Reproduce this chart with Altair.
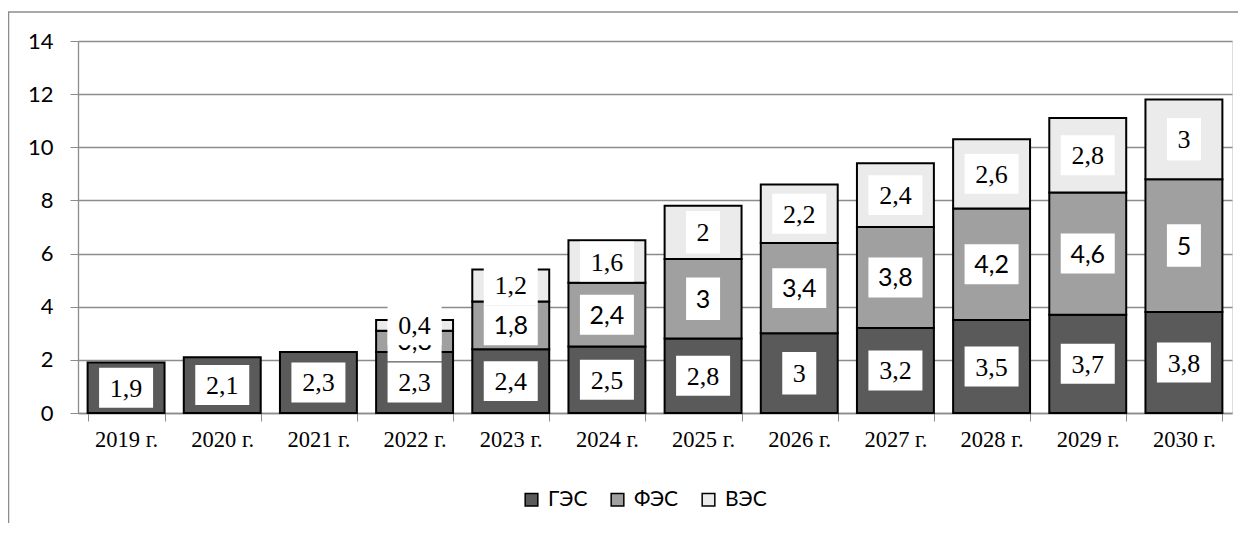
import altair as alt
import pandas as pd

years = ["2019 г.", "2020 г.", "2021 г.", "2022 г.", "2023 г.", "2024 г.",
         "2025 г.", "2026 г.", "2027 г.", "2028 г.", "2029 г.", "2030 г."]
ges = [1.9, 2.1, 2.3, 2.3, 2.4, 2.5, 2.8, 3.0, 3.2, 3.5, 3.7, 3.8]
fes = [0, 0, 0, 0.8, 1.8, 2.4, 3.0, 3.4, 3.8, 4.2, 4.6, 5.0]
ves = [0, 0, 0, 0.4, 1.2, 1.6, 2.0, 2.2, 2.4, 2.6, 2.8, 3.0]
series_names = ["ГЭС", "ФЭС", "ВЭС"]
series_values = [ges, fes, ves]
fills = ["#5a5a5a", "#a0a0a0", "#ebebeb"]


def fmt(v):
    s = ("%g" % v)
    return s.replace(".", ",")


rows = []
for i, y in enumerate(years):
    base = 0.0
    for k, (name, vals) in enumerate(zip(series_names, series_values)):
        v = vals[i]
        if v > 0:
            rows.append({"year": y, "series": name, "order": k, "value": v,
                         "y0": base, "y1": base + v, "mid": base + v / 2,
                         "label": fmt(v),
                         "wide": "w" if len(fmt(v)) > 1 else "n"})
        base += v
df = pd.DataFrame(rows)

W, H = 1154, 372

xenc = alt.X("year:N", sort=years, title=None,
             scale=alt.Scale(paddingInner=0.2, paddingOuter=0.1),
             axis=alt.Axis(labelFont="Liberation Serif", labelFontSize=22.5,
                           labelColor="black", labelAngle=0, labelPadding=7,
                           tickBand="extent", tickColor="#8c8c8c", tickSize=8,
                           domainColor="#8c8c8c", domainWidth=1.3))
yscale = alt.Scale(domain=[0, 14], nice=False)

bars = alt.Chart(df).mark_bar(stroke="black", strokeWidth=2).encode(
    x=xenc,
    y=alt.Y("y0:Q", scale=yscale, title=None,
            axis=alt.Axis(values=list(range(0, 15, 2)), labelFont="Lato",
                          labelFontSize=22, labelColor="black", labelPadding=17,
                          tickColor="#8c8c8c", tickSize=8, domainColor="#8c8c8c",
                          domainWidth=1.3, gridColor="#8c8c8c", gridWidth=1.3,
                          grid=True)),
    y2="y1:Q",
    fill=alt.Fill("series:N", sort=series_names,
                  scale=alt.Scale(domain=series_names, range=fills),
                  legend=alt.Legend(title=None, orient="none", direction="horizontal",
                                    legendX=443, legendY=448, symbolType="square",
                                    symbolSize=160, symbolStrokeColor="black",
                                    symbolStrokeWidth=1.5, symbolOpacity=1,
                                    labelFont="Lato", labelFontSize=21,
                                    labelColor="black", labelOffset=6,
                                    columnPadding=19)),
    order=alt.Order("order:Q"),
)

wide_shape = "M-1,-0.74L1,-0.74L1,0.74L-1,0.74Z"
narrow_shape = "M-1,-1.25L1,-1.25L1,1.25L-1,1.25Z"


def boxes(names):
    d = df[df["series"].isin(names)]
    wide = alt.Chart(d[d["wide"] == "w"]).mark_point(
        shape=wide_shape, filled=True, fill="white", opacity=1, size=54 * 54,
        strokeWidth=0).encode(x=alt.X("year:N", sort=years),
                              y=alt.Y("mid:Q", scale=yscale))
    narrow = alt.Chart(d[d["wide"] == "n"]).mark_point(
        shape=narrow_shape, filled=True, fill="white", opacity=1, size=34 * 34,
        strokeWidth=0).encode(x=alt.X("year:N", sort=years),
                              y=alt.Y("mid:Q", scale=yscale))
    return [wide, narrow]


def texts(name, font, size):
    d = df[df["series"] == name]
    return alt.Chart(d).mark_text(font=font, fontSize=size, color="black",
                                 baseline="middle", align="center", dy=1).encode(
        x=alt.X("year:N", sort=years), y=alt.Y("mid:Q", scale=yscale),
        text="label:N")


frame_left = alt.Chart(pd.DataFrame({"a": [0]})).mark_rule(
    color="#8c8c8c", strokeWidth=1.5).encode(
    x=alt.value(-69.5), y=alt.value(-29), y2=alt.value(520))
frame_top = alt.Chart(pd.DataFrame({"a": [0]})).mark_rule(
    color="#8c8c8c", strokeWidth=1.5).encode(
    x=alt.value(-70), x2=alt.value(1200), y=alt.value(-29))

layers = [frame_left, frame_top, bars]
layers += boxes(["ГЭС"]) + [texts("ГЭС", "Liberation Serif", 26)]
layers += boxes(["ФЭС"]) + [texts("ФЭС", "Lato", 25)]
layers += boxes(["ВЭС"]) + [texts("ВЭС", "Liberation Serif", 26)]

chart = alt.layer(*layers).resolve_scale(x="shared", y="shared").properties(
    width=W, height=H,
    autosize=alt.AutoSizeParams(type="none"),
    padding={"left": 70, "top": 33, "right": 6, "bottom": 110},
).configure_view(stroke=None).configure(background="white")

chart.save("out.html", embed_options={"renderer": "svg", "actions": False})
